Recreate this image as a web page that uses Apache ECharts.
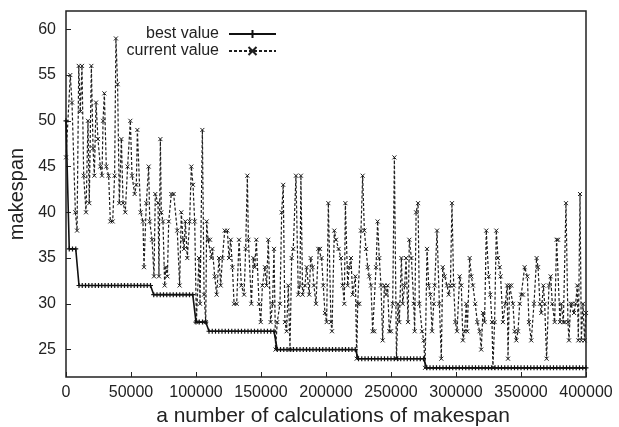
<!DOCTYPE html>
<html><head><meta charset="utf-8">
<script src="https://cdn.jsdelivr.net/npm/echarts@6/dist/echarts.min.js"></script>
<style>html,body{margin:0;padding:0;background:#fff}#c{width:619px;height:427px}</style>
</head><body><div id="c"></div>
<script>
// ---- data ----
const xTicks = [0, 50000, 100000, 150000, 200000, 250000, 300000, 350000, 400000];
const yTicks = [25, 30, 35, 40, 45, 50, 55, 60];

// best value, sampled every 2500 calculations
const bestStep = 2500;
const bestMakespan = [
  50,36,36,36,32,32,32,32,32,32,
  32,32,32,32,32,32,32,32,32,32,
  32,32,32,32,32,32,32,31,31,31,
  31,31,31,31,31,31,31,31,31,31,
  28,28,28,28,27,27,27,27,27,27,
  27,27,27,27,27,27,27,27,27,27,
  27,27,27,27,27,25,25,25,25,25,
  25,25,25,25,25,25,25,25,25,25,
  25,25,25,25,25,25,25,25,25,25,
  24,24,24,24,24,24,24,24,24,24,
  24,24,24,24,24,24,24,24,24,24,
  24,23,23,23,23,23,23,23,23,23,
  23,23,23,23,23,23,23,23,23,23,
  23,23,23,23,23,23,23,23,23,23,
  23,23,23,23,23,23,23,23,23,23,
  23,23,23,23,23,23,23,23,23,23,
  23
];

// current value
const currentCalcs = [
  0,3300,4600,7200,8500,9800,11000,12300,13600,15400,16900,17900,19500,20800,21800,23100,24600,26400,27700,28500,29500,31000,32800,34100,35900,37400,38400,39700,41000,42600,43900,45600,47400,49500,
  50800,52800,54100,54900,57400,59200,60000,61800,63600,64400,66200,67700,68700,70800,71500,72600,73300,74600,75900,76700,78000,79000,81000,82800,85600,87400,88700,90000,90800,91800,93300,95100,96400,97700,99000,
  100300,102300,103100,104900,106200,107500,108200,109300,110800,111800,112600,114400,115900,117700,119000,120300,122100,124100,125400,126700,128000,129300,131300,133100,134900,137000,138200,139500,140300,142600,144100,145200,146400,148500,149800,
  151100,153000,154300,155600,157400,158900,160000,161200,162500,164600,165900,167100,168400,169700,171000,172300,173600,174800,176900,178700,180000,180700,182000,183800,185100,187100,188200,189700,190700,192300,194100,195400,196600,197900,199200,
  200500,201800,203800,204600,206400,207700,209700,211500,212800,214100,214900,216700,217900,219200,220500,222600,223600,224400,225600,226900,228200,229500,230800,232100,233300,234600,235900,237200,238500,239700,241000,242300,243600,244900,246200,247400,248700,250000,
  251300,252600,254200,255400,256400,258000,259000,260500,261600,263100,264100,265700,267500,268200,269300,270800,271800,273900,275200,276200,277700,279000,280300,281600,282900,283600,285400,287200,288700,289800,291300,293100,294400,295700,296900,298200,299500,
  300800,302800,304100,305300,306600,307900,308700,310500,311800,313000,314800,316400,318200,319400,320700,322000,323300,325100,326400,327700,328400,329700,331000,332300,333600,334300,336100,337900,339400,340000,341200,342500,343800,345100,346400,347700,349000,
  350200,351500,352800,354900,356100,357900,360000,362000,363100,364600,365600,367200,368200,369700,371500,372800,374100,375900,377400,378500,380000,381000,382600,383600,384600,386100,386900,388200,389500,390800,392000,393300,394100,395400,396400,397700,398900,400000
];
const currentMakespan = [
  46,55,52,40,38,56,51,56,44,40,50,41,56,47,44,52,48,45,44,50,53,45,44,39,39,44,59,54,41,48,41,40,45,50,
  44,42,43,49,40,39,34,41,45,39,37,33,42,41,33,48,40,39,32,34,33,39,42,42,38,32,40,37,36,39,35,39,45,43,39,
  28,35,30,49,31,28,39,37,37,35,36,33,31,35,32,35,38,38,35,37,34,30,30,37,32,31,36,44,37,30,35,34,37,30,28,
  32,34,32,37,28,30,36,25,28,30,40,43,28,27,32,25,35,36,44,31,32,44,31,32,34,31,35,34,32,30,36,36,35,32,29,
  28,41,28,27,38,37,36,35,32,30,41,32,34,35,31,33,24,30,30,38,44,38,36,34,33,32,27,27,34,39,35,32,26,32,31,32,27,27,
  30,46,24,30,28,35,30,32,35,28,37,35,30,27,40,41,30,27,26,23,36,32,31,27,30,32,38,30,24,34,33,32,31,32,41,32,28,
  27,33,32,26,27,30,27,35,33,32,30,28,27,25,29,28,38,33,31,28,23,28,38,35,34,33,28,30,32,24,32,32,30,27,26,27,30,
  31,31,34,33,28,26,30,35,34,30,29,32,30,24,32,33,30,28,37,37,28,30,28,28,41,28,26,30,30,29,30,32,26,42,26,30,26,29
];

// ---- chart ----
const FONT = 'Liberation Sans, Arial, Helvetica, sans-serif';
const xMark = 'path://M0,0L10,10M10,0L0,10';
const plusMark = 'path://M5,0L5,10M0,5L10,5';
const chart = echarts.init(document.getElementById('c'), null, {renderer: 'canvas'});
chart.setOption({
  animation: false,
  backgroundColor: '#fff',
  grid: {left: 66, right: 33, top: 11, bottom: 50, outerBoundsMode: 'none', containLabel: false,
         show: true, borderColor: '#222', borderWidth: 1.5, backgroundColor: 'transparent'},
  legend: {
    orient: 'vertical', align: 'right', right: 337, top: 21,
    itemWidth: 47, itemHeight: 10, itemGap: 1,
    textStyle: {fontFamily: FONT, fontSize: 16, color: '#222', padding: [0, 5, 0, 0]},
    data: ['best value', 'current value']
  },
  xAxis: {
    type: 'value', min: 0, max: 400000, interval: 50000,
    axisLine: {show: false},
    axisTick: {show: true, inside: true, length: 5, lineStyle: {color: '#222', width: 1}},
    axisLabel: {fontFamily: FONT, fontSize: 16, color: '#222', margin: 8, customValues: xTicks,
                formatter: v => String(v)},
    splitLine: {show: false},
    name: 'a number of calculations of makespan', nameLocation: 'middle', nameGap: 28,
    nameTextStyle: {fontFamily: FONT, fontSize: 21, color: '#222', padding: [0, 0, 0, 14]}
  },
  yAxis: {
    type: 'value', min: 22, max: 62,
    axisLine: {show: false},
    axisTick: {show: true, inside: true, length: 5, lineStyle: {color: '#222', width: 1}, customValues: yTicks},
    axisLabel: {fontFamily: FONT, fontSize: 16, color: '#222', margin: 10, customValues: yTicks},
    splitLine: {show: false},
    name: 'makespan', nameLocation: 'middle', nameGap: 38,
    nameTextStyle: {fontFamily: FONT, fontSize: 20, color: '#222'}
  },
  series: [
    {
      name: 'best value', type: 'line', z: 3,
      data: bestMakespan.map((v, i) => [i * bestStep, v]),
      symbol: plusMark, symbolSize: 5,
      lineStyle: {color: '#111', width: 1.6},
      itemStyle: {color: '#111', borderColor: '#111', borderWidth: 1.2}
    },
    {
      name: 'current value', type: 'line', z: 2,
      data: currentCalcs.map((x, i) => [x, currentMakespan[i]]),
      symbol: xMark, symbolSize: 4,
      lineStyle: {color: '#1e1e1e', width: 1.2, type: [3, 2]},
      itemStyle: {color: '#1e1e1e', borderColor: '#1e1e1e', borderWidth: 1}
    }
  ]
});
</script>
</body></html>
